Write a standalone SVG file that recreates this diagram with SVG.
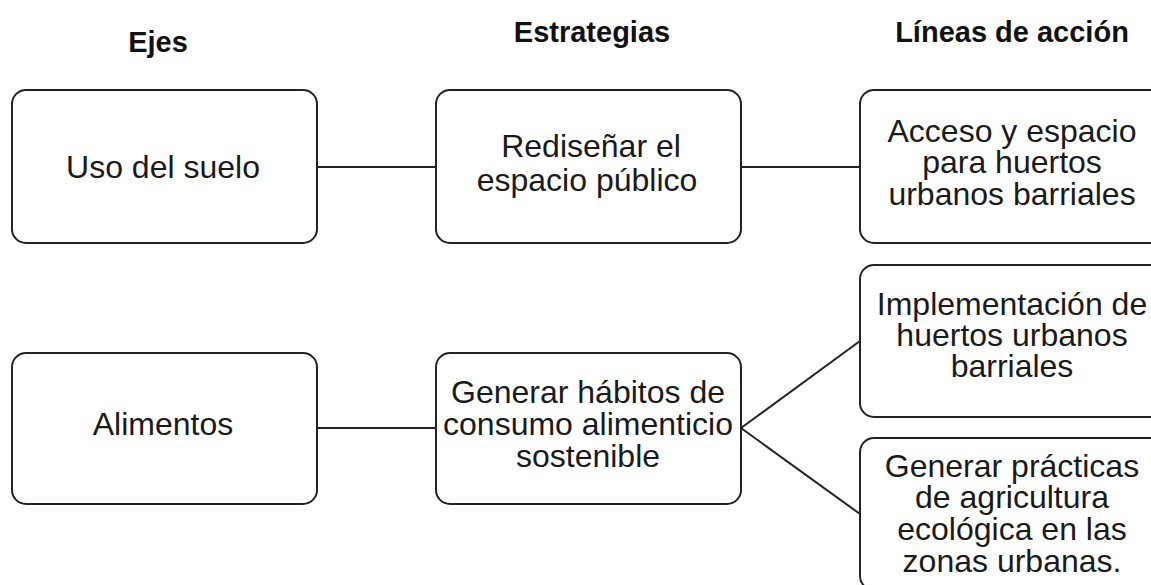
<svg xmlns="http://www.w3.org/2000/svg" width="1151" height="585" viewBox="0 0 1151 585">
<style>
.box{fill:#fff;stroke:#222;stroke-width:2}
.hd{font-family:"Liberation Sans",Arial,sans-serif;font-weight:bold;font-size:29px;fill:#111;text-anchor:middle}
.tx{font-family:"Liberation Sans",Arial,sans-serif;font-size:32px;fill:#1a1a1a;text-anchor:middle}
.cn{stroke:#222;stroke-width:2;fill:none}
</style>
<rect width="1151" height="585" fill="#fff"/>
<g id="headers">
<text class="hd" x="158" y="52">Ejes</text>
<text class="hd" x="592" y="42">Estrategias</text>
<text class="hd" x="1012" y="42">Líneas de acción</text>
</g>
<g id="connectors">
<line class="cn" x1="317" y1="167" x2="436" y2="167"/>
<line class="cn" x1="741" y1="167" x2="860" y2="167"/>
<line class="cn" x1="317" y1="428" x2="436" y2="428"/>
<line class="cn" x1="741" y1="428" x2="860" y2="341"/>
<line class="cn" x1="741" y1="428" x2="860" y2="514"/>
</g>
<g id="n-uso">
<rect class="box" x="12" y="90" width="305" height="153" rx="14"/>
<text class="tx" x="163" y="178">Uso del suelo</text>
</g>
<g id="n-redisenar">
<rect class="box" x="436" y="90" width="305" height="153" rx="14"/>
<text class="tx" x="591" y="157">Rediseñar el</text>
<text class="tx" x="587" y="191">espacio público</text>
</g>
<g id="n-acceso">
<rect class="box" x="860" y="90" width="305" height="153" rx="14"/>
<text class="tx" x="1012" y="142">Acceso y espacio</text>
<text class="tx" x="1012" y="173">para huertos</text>
<text class="tx" x="1012" y="205">urbanos barriales</text>
</g>
<g id="n-alimentos">
<rect class="box" x="12" y="353" width="305" height="151" rx="14"/>
<text class="tx" x="163" y="435">Alimentos</text>
</g>
<g id="n-habitos">
<rect class="box" x="436" y="353" width="305" height="151" rx="14"/>
<text class="tx" x="588" y="403">Generar hábitos de</text>
<text class="tx" x="588" y="435">consumo alimenticio</text>
<text class="tx" x="588" y="467">sostenible</text>
</g>
<g id="n-implementacion">
<rect class="box" x="860" y="265" width="305" height="152" rx="14"/>
<text class="tx" x="1012" y="315">Implementación de</text>
<text class="tx" x="1012" y="346">huertos urbanos</text>
<text class="tx" x="1012" y="377">barriales</text>
</g>
<g id="n-practicas">
<rect class="box" x="860" y="438" width="305" height="152" rx="14"/>
<text class="tx" x="1012" y="477">Generar prácticas</text>
<text class="tx" x="1012" y="508">de agricultura</text>
<text class="tx" x="1012" y="540">ecológica en las</text>
<text class="tx" x="1012" y="572">zonas urbanas.</text>
</g>
</svg>
